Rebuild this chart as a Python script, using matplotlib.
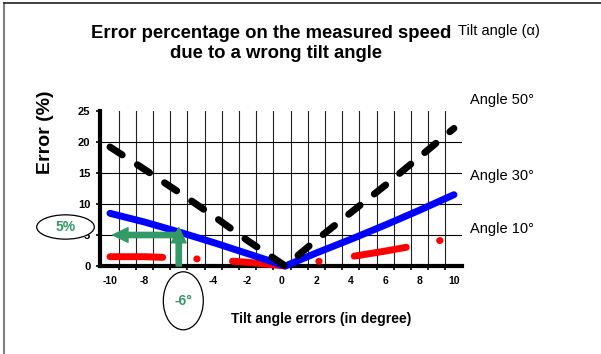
import numpy as np
import matplotlib
matplotlib.use('Agg')
import matplotlib.pyplot as plt
from matplotlib.patches import Ellipse, FancyArrowPatch
from matplotlib.lines import Line2D

plt.rcParams['font.family'] = ['Liberation Sans', 'DejaVu Sans']
plt.rcParams['lines.scale_dashes'] = False

# tilt angle error (deg) vs. error on the measured speed (%)
tilt_err = [-10, -8, -6, -4, -2, 0.2, 2, 4, 6, 8, 10]
err_50 = [19.2, 15.6, 11.9, 8.1, 4.1, 0.0, 4.2, 8.6, 13.0, 17.6, 22.2]
err_30 = [8.5, 7.1, 5.5, 3.8, 2.0, 0.0, 2.1, 4.3, 6.6, 9.0, 11.5]
err_10 = [1.5, 1.5, 1.3, 1.0, 0.6, 0.0, 0.7, 1.5, 2.4, 3.4, 4.6]

series_labels = ['Angle 50°', 'Angle 30°', 'Angle 10°']
x_ticks = [-10, -8, -6, -4, -2, 0, 2, 4, 6, 8, 10]
y_ticks = [0, 5, 10, 15, 20, 25]

# worked example: -6° error read as 5 %
example_err = -6
example_pct = 5
example_top = 6.2
example_left = -9.84

green = '#339966'

W, H = 601, 354
fig = plt.figure(figsize=(W / 100, H / 100), dpi=100)


def fx(px):
    return px / W


def fy(py):
    return 1 - py / H


ax = fig.add_axes([fx(100), fy(266), (462 - 100) / W, (266 - 111) / H])

ax.plot(tilt_err, err_10, color='#ff0000', lw=5, dashes=(38, 24.5, 0.3, 25.5),
        dash_capstyle='round', solid_joinstyle='round', dash_joinstyle='round',
        clip_on=False, zorder=3)
ax.plot(tilt_err, err_30, color='#0000ff', lw=5, solid_capstyle='round',
        solid_joinstyle='round', clip_on=False, zorder=3)
ax.plot(tilt_err, err_50, color='black', lw=5, dashes=(10.5, 13),
        dash_capstyle='round', dash_joinstyle='round', clip_on=False, zorder=3)

ax.set_xlim(-10.58, 10.47)
ax.set_ylim(0, 25)

ax.set_xticks(x_ticks)
ax.set_xticklabels([str(t) for t in x_ticks])
ax.set_xticks(np.arange(-9.5, 10, 1.0), minor=True)
ax.set_yticks(y_ticks)
ax.set_yticklabels([str(t) for t in y_ticks])
ax.tick_params(axis='x', which='major', length=0, pad=7, labelsize=7.5)
ax.tick_params(axis='x', which='minor', length=3, width=1.2, direction='out')
ax.tick_params(axis='y', length=3, width=1.2, pad=4, labelsize=8)
for lab in ax.get_xticklabels() + ax.get_yticklabels():
    lab.set_fontweight('bold')

ax.grid(axis='x', which='minor', color='#222222', lw=0.8)
ax.grid(axis='y', which='major', color='black', lw=0.8)
ygrid = ax.get_ygridlines()
ygrid[0].set_visible(False)
ygrid[-1].set_visible(False)

for side in ['top', 'right']:
    ax.spines[side].set_visible(False)
for side in ['left', 'bottom']:
    ax.spines[side].set_linewidth(3)
    ax.spines[side].set_color('black')

# green reading arrows
arrow_kw = dict(arrowstyle='simple,head_length=1.1,head_width=1.05,tail_width=0.38',
                mutation_scale=10, color=green, shrinkA=0, shrinkB=0,
                zorder=6, clip_on=False)
ax.add_patch(FancyArrowPatch((example_err, 0), (example_err, example_top), **arrow_kw))
ax.add_patch(FancyArrowPatch((example_err, example_pct), (example_left, example_pct), **arrow_kw))

# circled callouts
fig.add_artist(Ellipse((fx(65.5), fy(227)), 57.6 / W, 24.3 / H, transform=fig.transFigure,
                       fc='white', ec='black', lw=0.9, zorder=5))
fig.text(fx(66), fy(227), f'{example_pct}%', color=green, fontsize=10, fontweight='bold',
         ha='center', va='center', zorder=6)
fig.add_artist(Ellipse((fx(183.3), fy(300.8)), 40 / W, 58 / H, transform=fig.transFigure,
                       fc='white', ec='black', lw=0.9, zorder=5))
fig.text(fx(183.5), fy(301), f'{example_err}°', color=green, fontsize=10, fontweight='bold',
         ha='center', va='center', zorder=6)

# titles and labels
fig.text(fx(271.5), fy(33), 'Error percentage on the measured speed', fontsize=13.3,
         fontweight='bold', ha='center', va='center')
fig.text(fx(275.5), fy(54), 'due to a wrong tilt angle', fontsize=13.3,
         fontweight='bold', ha='center', va='center')
fig.text(fx(458), fy(31), 'Tilt angle (α)', fontsize=10.5, ha='left', va='center')
fig.text(fx(45), fy(132), 'Error (%)', fontsize=14, fontweight='bold', rotation=90,
         ha='center', va='center')
fig.text(fx(321), fy(319), 'Tilt angle errors (in degree)', fontsize=10,
         fontweight='bold', ha='center', va='center')

for label, py in zip(series_labels, [100, 176, 229]):
    fig.text(fx(470), fy(py), label, fontsize=10.5, ha='left', va='center')

# outer frame (left and top edges only)
fig.add_artist(Line2D([fx(4), fx(4)], [0, fy(3)], transform=fig.transFigure,
                      color='#808080', lw=1.5))
fig.add_artist(Line2D([fx(4), 1], [fy(3), fy(3)], transform=fig.transFigure,
                      color='#222222', lw=1.2))

fig.savefig('out.png', dpi=100)
